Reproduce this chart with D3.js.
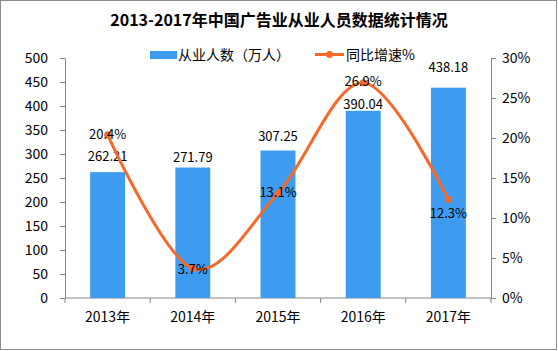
<!DOCTYPE html>
<html>
<head>
<meta charset="utf-8">
<script src="https://cdn.jsdelivr.net/npm/d3@7"></script>
<style>
  body { margin: 0; background: #fff; }
  text { font-family: "Noto Sans CJK SC", "DejaVu Sans", sans-serif; }
</style>
</head>
<body>
<div id="chart"></div>
<script>
// chart data
const years = ["2013年", "2014年", "2015年", "2016年", "2017年"];
const staff = [262.21, 271.79, 307.25, 390.04, 438.18];
const growth = [20.4, 3.7, 13.1, 26.9, 12.3];
const leftTicks = [0, 50, 100, 150, 200, 250, 300, 350, 400, 450, 500];
const rightTicks = [0, 5, 10, 15, 20, 25, 30];

// label nudges (px) as placed in the original chart
const barLabelLift = [11, 5.5, 9.5, 2, 16];
const lineLabelDrop = [4.5, 6, 4, 2.7, 18];

const W = 558, H = 351;
const margin = {top: 58, right: 67, bottom: 53, left: 65};
const width = W - margin.left - margin.right;
const height = H - margin.top - margin.bottom;

const blue = "#3d9cf0";
const orange = "#f5692a";
const axisColor = "#868686";

const svg = d3.select("#chart")
  .append("svg")
  .attr("width", W)
  .attr("height", H);

// outer border
svg.append("rect")
  .attr("x", 0.5).attr("y", 0.5)
  .attr("width", W - 2).attr("height", H - 2)
  .attr("fill", "#fff")
  .attr("stroke", "#8c8c8c");

svg.append("text")
  .attr("x", W / 2)
  .attr("y", 26)
  .attr("text-anchor", "middle")
  .attr("font-size", 16)
  .attr("font-weight", "bold")
  .text("2013-2017年中国广告业从业人员数据统计情况");

const chart = svg.append("g")
  .attr("transform", `translate(${margin.left},${margin.top})`);

const x = d3.scaleBand()
  .domain(years)
  .range([0, width])
  .paddingInner(0.59)
  .paddingOuter(0.295);

const yL = d3.scaleLinear().domain([0, 500]).range([height, 0]);
const yR = d3.scaleLinear().domain([0, 30]).range([height, 0]);

// axes
const styleAxis = g => {
  g.select(".domain").attr("stroke", axisColor);
  g.selectAll(".tick line").attr("stroke", axisColor);
  g.selectAll(".tick text").attr("fill", "#000").attr("font-size", 14)
    .attr("font-family", "'Noto Sans CJK SC', sans-serif");
};

chart.append("g")
  .call(d3.axisLeft(yL).tickValues(leftTicks).tickSize(5).tickSizeOuter(0).tickPadding(12))
  .call(styleAxis);

chart.append("g")
  .attr("transform", `translate(${width},0)`)
  .call(d3.axisRight(yR).tickValues(rightTicks).tickSize(5).tickSizeOuter(0).tickPadding(6)
    .tickFormat(d => d + "%"))
  .call(styleAxis);

// x axis: ticks at band boundaries
const xAxis = chart.append("g").attr("transform", `translate(0,${height})`);
xAxis.append("line")
  .attr("x1", 0).attr("x2", width)
  .attr("stroke", axisColor);
xAxis.selectAll("line.bound")
  .data(d3.range(years.length + 1))
  .join("line")
  .attr("class", "bound")
  .attr("x1", i => i * width / years.length)
  .attr("x2", i => i * width / years.length)
  .attr("y1", 0).attr("y2", 5)
  .attr("stroke", axisColor);
xAxis.selectAll("text")
  .data(years)
  .join("text")
  .attr("x", d => x(d) + x.bandwidth() / 2)
  .attr("y", 24)
  .attr("text-anchor", "middle")
  .attr("font-size", 14)
  .text(d => d);

// bars
chart.selectAll("rect.bar")
  .data(staff)
  .join("rect")
  .attr("class", "bar")
  .attr("x", (d, i) => x(years[i]))
  .attr("y", d => yL(d))
  .attr("width", x.bandwidth())
  .attr("height", d => height - yL(d))
  .attr("fill", blue);

chart.selectAll("text.barlabel")
  .data(staff)
  .join("text")
  .attr("class", "barlabel")
  .attr("x", (d, i) => x(years[i]) + x.bandwidth() / 2)
  .attr("y", (d, i) => yL(d) - barLabelLift[i])
  .attr("text-anchor", "middle")
  .attr("font-size", 13)
  .text(d => d.toFixed(2));

// growth line
const cx = (d, i) => x(years[i]) + x.bandwidth() / 2;
const line = d3.line()
  .x(cx)
  .y(d => yR(d))
  .curve(d3.curveCardinal.tension(0));

chart.append("path")
  .datum(growth)
  .attr("d", line)
  .attr("fill", "none")
  .attr("stroke", orange)
  .attr("stroke-width", 3);

chart.selectAll("circle.pt")
  .data(growth)
  .join("circle")
  .attr("class", "pt")
  .attr("cx", cx)
  .attr("cy", d => yR(d))
  .attr("r", 3.5)
  .attr("fill", orange);

chart.selectAll("text.gl")
  .data(growth)
  .join("text")
  .attr("class", "gl")
  .attr("x", cx)
  .attr("y", (d, i) => yR(d) + lineLabelDrop[i])
  .attr("text-anchor", "middle")
  .attr("font-size", 13)
  .text(d => d.toFixed(1) + "%");

// legend
const legend = svg.append("g");
legend.append("rect")
  .attr("x", 150).attr("y", 51)
  .attr("width", 27).attr("height", 8)
  .attr("fill", blue);
legend.append("text")
  .attr("x", 178).attr("y", 60)
  .attr("font-size", 14)
  .text("从业人数（万人）");
legend.append("line")
  .attr("x1", 315).attr("x2", 344)
  .attr("y1", 54.5).attr("y2", 54.5)
  .attr("stroke", orange).attr("stroke-width", 3);
legend.append("circle")
  .attr("cx", 329.5).attr("cy", 54.5).attr("r", 3.5)
  .attr("fill", orange);
legend.append("text")
  .attr("x", 346).attr("y", 60)
  .attr("font-size", 14)
  .text("同比增速%");
</script>
</body>
</html>
